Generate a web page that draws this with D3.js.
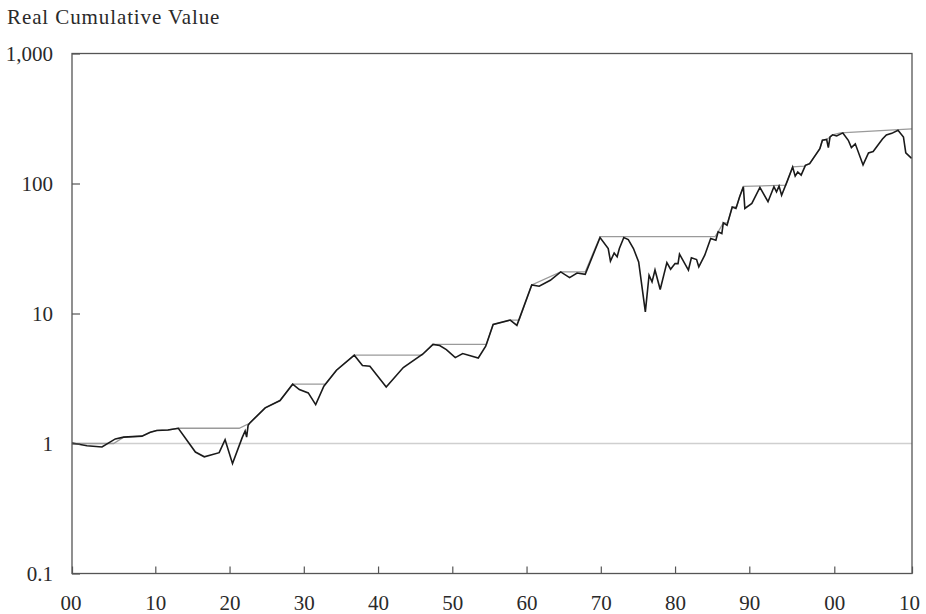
<!DOCTYPE html>
<html>
<head>
<meta charset="utf-8">
<script src="https://cdn.jsdelivr.net/npm/d3@7"></script>
<style>
  body { margin: 0; background: #fff; }
  text { font-family: "Liberation Serif", "DejaVu Serif", serif; fill: #2a2a2a; }
</style>
</head>
<body>
<script>
console.log("chart script loaded")

// black line: real cumulative value
const years = [1900, 1901.8, 1903.6, 1905.2, 1906.2, 1908.4, 1909.4, 1910.2, 1911.7, 1913.1,
  1915.4, 1916.6, 1918.6, 1919.4, 1920.4, 1921.7, 1922.1, 1922.3, 1922.5, 1922.7,
  1924.8, 1926.8, 1928.5, 1929.4, 1930.6, 1931.6, 1932.7, 1934.4, 1936.8, 1937.9,
  1938.9, 1941.1, 1943.4, 1946.0, 1947.4, 1948.3, 1949.2, 1950.4, 1951.4, 1953.5,
  1954.5, 1955.5, 1957.8, 1958.7, 1960.7, 1961.7, 1963.2, 1964.6, 1965.8, 1966.8,
  1967.9, 1969.9, 1971.0, 1971.3, 1971.8, 1972.2, 1972.5, 1973.1, 1973.7, 1974.4,
  1975.1, 1976.0, 1976.5, 1976.9, 1977.3, 1978.0, 1978.9, 1979.4, 1980.0, 1980.4,
  1980.6, 1981.8, 1982.2, 1982.9, 1983.2, 1984.0, 1984.8, 1985.5, 1985.8, 1986.3,
  1986.5, 1987.0, 1987.7, 1988.2, 1988.7, 1989.2, 1989.4, 1990.3, 1991.25, 1992.2,
  1992.9, 1993.2, 1993.5, 1993.8, 1994.5, 1995.1, 1995.4, 1995.7, 1996.1, 1996.6,
  1997.1, 1998.3, 1998.6, 1999.1, 1999.3, 1999.5, 1999.8, 2000.3, 2001.1, 2001.8,
  2002.2, 2002.7, 2003.7, 2004.4, 2005.0, 2006.2, 2006.7, 2007.4, 2008.2, 2008.9,
  2009.2, 2009.95];
const values = [1.01, 0.96, 0.94, 1.085, 1.12, 1.14, 1.22, 1.26, 1.27, 1.31,
  0.86, 0.79, 0.85, 1.07, 0.70, 1.11, 1.25, 1.12, 1.38, 1.43,
  1.88, 2.14, 2.86, 2.6, 2.45, 1.99, 2.76, 3.66, 4.78, 3.98,
  3.93, 2.72, 3.84, 4.86, 5.78, 5.67, 5.28, 4.58, 4.92, 4.55,
  5.6, 8.23, 8.9, 8.1, 16.6, 16.2, 18.0, 20.9, 18.9, 20.5,
  20.0, 38.4, 31.6, 25.3, 29.2, 27.3, 31.6, 38.4, 37.0, 31.6,
  24.9, 10.3, 19.7, 17.5, 21.6, 15.3, 24.6, 21.9, 24.2, 24.2,
  28.6, 21.6, 26.8, 26.0, 22.8, 28.1, 37.8, 36.6, 42.5, 41.2,
  49.8, 47.8, 66, 64.3, 79, 94.4, 64.3, 70.2, 93.3, 72.4,
  94.4, 86.3, 95.4, 81.2, 105.7, 134, 114, 122.6, 116, 138,
  142, 185, 215, 218, 189, 228, 237, 232, 245, 215,
  189, 202, 139, 172, 176, 220, 236, 243, 257, 228,
  172, 156];

// gray line: previous high (also)
const peakYears = [1900, 1905.0, 1906.2, 1908.4, 1909.4, 1910.2, 1911.7, 1913.1, 1921.3, 1922.7,
  1924.8, 1926.8, 1928.5, 1932.9, 1934.4, 1936.8, 1945.9, 1947.4, 1954.6, 1955.5,
  1957.8, 1959.0, 1960.7, 1964.6, 1967.9, 1969.9, 1985.4, 1985.8, 1986.5, 1987.1,
  1987.7, 1988.3, 1988.7, 1989.2, 1994.3, 1994.5, 1995.1, 1996.5, 1996.6, 1997.1,
  1998.3, 1998.6, 1999.1, 1999.5, 1999.8, 2000.8, 2010];
const peakValues = [1.0, 1.0, 1.12, 1.14, 1.22, 1.26, 1.27, 1.31, 1.31, 1.43,
  1.88, 2.14, 2.86, 2.86, 3.66, 4.78, 4.78, 5.78, 5.78, 8.23,
  8.9, 8.9, 16.6, 20.9, 20.9, 39, 39, 42.5, 49.8, 50,
  66, 66, 79, 95, 97, 105.7, 134, 136, 138, 142,
  185, 215, 218, 228, 237, 245, 263];

// axis ticks
const yearTicks = [1900, 1910, 1920, 1930, 1940, 1950, 1960, 1970, 1980, 1990, 2000, 2010];
const valueTicks = [0.1, 1, 10, 100, 1000];
const valueLabels = ["0.1", "1", "10", "100", "1,000"];

const W = 926, H = 614;

const svg = d3.select('body').append("svg")
    .attr("width", W)
    .attr("height", H);

// the decades are not evenly spaced in the original, so piecewise
const x = d3.scaleLinear()
    .domain([1900, 1910, 1990, 2000, 2010])
    .range([72, 155.3, 749.3, 834.3, 912]);

const y = d3.scaleLog()
    .domain([0.1, 1000])
    .range([573.5, 53.5]);

// title
svg.append("text")
    .attr("x", 7)
    .attr("y", 24)
    .attr("font-size", 21)
    .attr("letter-spacing", 0.9)
    .text("Real Cumulative Value");

// reference line at 1
svg.append("line")
    .attr("x1", x(1900)).attr("x2", x(2010))
    .attr("y1", y(1)).attr("y2", y(1))
    .attr("stroke", "#cfcfcf")
    .attr("stroke-width", 1.6);

const line = d3.line()
    .x(d => x(d[0]))
    .y(d => y(d[1]));

// previous high
svg.append("path")
    .datum(peakYears.map((yr, i) => [yr, peakValues[i]]))
    .attr("fill", "none")
    .attr("stroke", "#9a9a9a")
    .attr("stroke-width", 1.3)
    .attr("d", line);

// cumulative value
svg.append("path")
    .datum(years.map((yr, i) => [yr, values[i]]))
    .attr("fill", "none")
    .attr("stroke", "#1a1a1a")
    .attr("stroke-width", 1.6)
    .attr("stroke-linejoin", "miter")
    .attr("d", line);

// axes, ticks point inward
const xAxis = svg.append("g")
    .attr("transform", "translate(0," + y(0.1) + ")")
    .call(d3.axisBottom(x)
      .tickValues(yearTicks)
      .tickSizeInner(-7)
      .tickSizeOuter(0)
      .tickPadding(22)
      .tickFormat(d => String(d % 100).padStart(2, "0")));

const yAxis = svg.append("g")
    .attr("transform", "translate(" + x(1900) + ",0)")
    .call(d3.axisLeft(y)
      .tickValues(valueTicks)
      .tickSizeInner(-8)
      .tickSizeOuter(0)
      .tickPadding(19)
      .tickFormat((d, i) => valueLabels[i]));

[xAxis, yAxis].forEach(g => {
  g.select(".domain").remove();
  g.selectAll(".tick line").attr("stroke", "#555").attr("stroke-width", 1.2);
  g.selectAll(".tick text")
    .attr("font-size", 21)
    .attr("font-family", "Liberation Serif, serif")
    .attr("fill", "#2a2a2a");
});

// end labels sit a little inside the corners in the original
xAxis.selectAll(".tick text")
    .attr("dx", d => d === 1900 ? -1.5 : d === 2010 ? -3 : 0);

// frame
svg.append("rect")
    .attr("x", x(1900))
    .attr("y", y(1000))
    .attr("width", x(2010) - x(1900))
    .attr("height", y(0.1) - y(1000))
    .attr("fill", "none")
    .attr("stroke", "#555")
    .attr("stroke-width", 1.3);
</script>
</body>
</html>
